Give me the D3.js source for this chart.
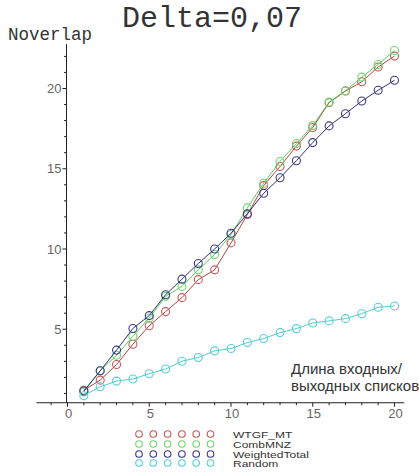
<!DOCTYPE html>
<html>
<head>
<meta charset="utf-8">
<script src="https://cdn.jsdelivr.net/npm/d3@7/dist/d3.min.js"></script>
<style>
  body { margin: 0; background: #fff; }
  svg { display: block; }
</style>
</head>
<body>
<div id="chart"></div>
<script>
// ------------------------------------------------------------
// 1. Data
// ------------------------------------------------------------
const listLength = d3.range(1, 21);

const wtgfMt = [1.2, 1.83, 2.8, 4.07, 5.22, 6.1, 6.97, 8.09, 8.7, 10.38,
  12.15, 13.95, 15.14, 16.41, 17.57, 19.12, 19.84, 20.42, 21.34, 22.02];
const combMnz = [1.1, 2.41, 3.38, 4.56, 5.7, 7.05, 7.67, 8.7, 9.66, 10.9,
  12.56, 14.1, 15.45, 16.57, 17.69, 19.15, 19.86, 20.71, 21.5, 22.37];
const weightedTotal = [1.15, 2.41, 3.7, 5.05, 5.85, 7.15, 8.12, 9.1, 10.0, 10.98,
  12.2, 13.47, 14.44, 15.5, 16.63, 17.67, 18.43, 19.22, 19.89, 20.51];
const random = [0.86, 1.42, 1.77, 1.9, 2.23, 2.52, 3.01, 3.24, 3.65, 3.8,
  4.17, 4.42, 4.79, 5.04, 5.39, 5.52, 5.66, 5.97, 6.37, 6.45];

const seriesNames = ["WTGF_MT", "CombMNZ", "WeightedTotal", "Random"];
const xTickLabels = [0, 5, 10, 15, 20];
const yTickLabels = [5, 10, 15, 20];

const title = "Delta=0,07";
const yTitle = "Noverlap";
const xTitle = ["Длина входных/", "выходных списков"];

// ------------------------------------------------------------
// 2. Setup
// ------------------------------------------------------------
const width = 419;
const height = 473;

const seriesValues = [wtgfMt, combMnz, weightedTotal, random];
const pointColors = ["#c45a5a", "#6fd66f", "#3a3a8c", "#55cfd6"];
const lineColors = ["#a83030", "#4cc44c", "#1c1c66", "#45c2c8"];

const x = d3.scaleLinear().domain([0, 20]).range([67.5, 394.5]);
const y = d3.scaleLinear().domain([0, 20]).range([409.5, 88.5]);

const xAxisAt = 0.42;   // maple puts the horizontal axis at the bottom of the view

const svg = d3.select("#chart")
  .append("svg")
  .attr("width", width)
  .attr("height", height);

// ------------------------------------------------------------
// 3. Axes
// ------------------------------------------------------------
const axisG = svg.append("g")
  .attr("stroke", "#222")
  .attr("stroke-width", 1);

// x axis line + ticks
axisG.append("line")
  .attr("x1", x(-1.9)).attr("x2", x(20.6))
  .attr("y1", y(xAxisAt)).attr("y2", y(xAxisAt));

axisG.selectAll("line.xtick")
  .data(d3.range(-1, 21))
  .enter()
  .append("line")
  .attr("class", "xtick")
  .attr("x1", d => x(d)).attr("x2", d => x(d))
  .attr("y1", y(xAxisAt))
  .attr("y2", d => y(xAxisAt) + (d % 5 === 0 ? 4 : 2.5));

// y axis line + ticks
axisG.append("line")
  .attr("x1", x(0) - 1).attr("x2", x(0) - 1)
  .attr("y1", y(xAxisAt)).attr("y2", y(22.76));

axisG.selectAll("line.ytick")
  .data(d3.range(1, 23))
  .enter()
  .append("line")
  .attr("class", "ytick")
  .attr("x1", x(0) - 1)
  .attr("x2", d => x(0) - 1 - (d % 5 === 0 ? 4 : 2.5))
  .attr("y1", d => y(d)).attr("y2", d => y(d));

svg.selectAll("text.xlab")
  .data(xTickLabels)
  .enter()
  .append("text")
  .attr("class", "xlab")
  .attr("x", d => x(d) + 1)
  .attr("y", y(xAxisAt) + 15)
  .attr("text-anchor", "middle")
  .attr("font-family", "Liberation Sans, Arial, sans-serif")
  .attr("font-size", 13)
  .attr("fill", "#666")
  .text(d => d);

svg.selectAll("text.ylab")
  .data(yTickLabels)
  .enter()
  .append("text")
  .attr("class", "ylab")
  .attr("x", x(0) - 6)
  .attr("y", d => y(d))
  .attr("dy", "0.35em")
  .attr("text-anchor", "end")
  .attr("font-family", "Liberation Sans, Arial, sans-serif")
  .attr("font-size", 13)
  .attr("fill", "#666")
  .text(d => d);

// ------------------------------------------------------------
// 4. Titles
// ------------------------------------------------------------
svg.append("text")
  .attr("x", 212)
  .attr("y", 27)
  .attr("text-anchor", "middle")
  .attr("font-family", "Liberation Mono, Courier New, monospace")
  .attr("font-size", 30)
  .attr("fill", "#333")
  .text(title);

svg.append("text")
  .attr("x", 8)
  .attr("y", 40)
  .attr("font-family", "Liberation Mono, Courier New, monospace")
  .attr("font-size", 17.5)
  .attr("fill", "#333")
  .text(yTitle);

svg.selectAll("text.xtitle")
  .data(xTitle)
  .enter()
  .append("text")
  .attr("class", "xtitle")
  .attr("x", 291)
  .attr("y", (d, i) => 374 + i * 17)
  .attr("font-family", "Liberation Sans, Arial, sans-serif")
  .attr("font-size", 15)
  .attr("fill", "#333")
  .text(d => d);

// ------------------------------------------------------------
// 5. Series: lines then circles
// ------------------------------------------------------------
const line = d3.line()
  .x((d, i) => x(listLength[i]))
  .y(d => y(d));

seriesValues.forEach((vals, s) => {
  const g = svg.append("g");

  g.append("path")
    .attr("d", line(vals))
    .attr("fill", "none")
    .attr("stroke", lineColors[s])
    .attr("stroke-width", 0.9);

  g.selectAll("circle")
    .data(vals)
    .enter()
    .append("circle")
    .attr("cx", (d, i) => x(listLength[i]))
    .attr("cy", d => y(d))
    .attr("r", 4)
    .attr("fill", "none")
    .attr("stroke", pointColors[s])
    .attr("stroke-width", 1.1);
});

// ------------------------------------------------------------
// 6. Legend (six circles per row, like maple draws it)
// ------------------------------------------------------------
const legend = svg.append("g");
const legendRowY = [434, 444, 454, 463];

seriesNames.forEach((name, s) => {
  legend.selectAll("circle.l" + s)
    .data(d3.range(6))
    .enter()
    .append("circle")
    .attr("class", "l" + s)
    .attr("cx", k => 139 + k * 14.3)
    .attr("cy", legendRowY[s])
    .attr("r", 3.3)
    .attr("fill", "none")
    .attr("stroke", pointColors[s])
    .attr("stroke-width", 1.1);

  // squashed a little vertically, the rows sit very close together
  legend.append("text")
    .attr("transform", `translate(233, ${legendRowY[s] + 3.5}) scale(1, 0.82)`)
    .attr("font-family", "Liberation Sans, Arial, sans-serif")
    .attr("font-size", 12)
    .attr("fill", "#333")
    .text(name);
});
</script>
</body>
</html>
